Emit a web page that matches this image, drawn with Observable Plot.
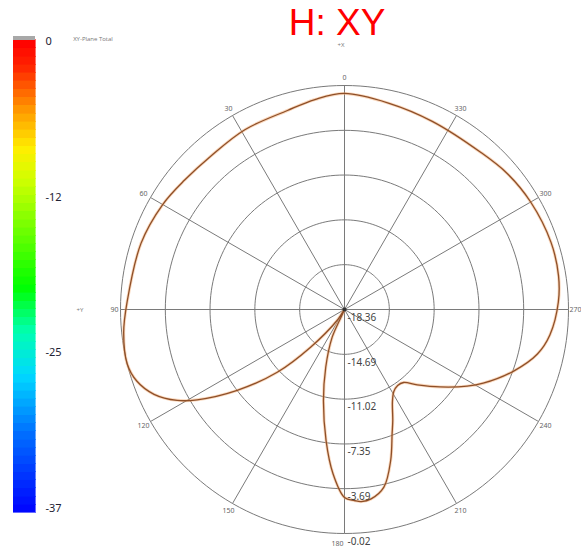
<!DOCTYPE html>
<html><head><meta charset="utf-8">
<script src="https://cdn.jsdelivr.net/npm/d3@7"></script>
<script src="https://cdn.jsdelivr.net/npm/@observablehq/plot@0.6"></script>
<style>
body{margin:0;background:#fff;}
#wrap{position:relative;width:581px;height:551px;overflow:hidden;font-family:"Open Sans","DejaVu Sans",sans-serif;}
#wrap > *{position:absolute;left:0;top:0;}
.lbl{font-size:6px;color:#777;white-space:nowrap;}
#title{font-family:"Liberation Sans",Arial,sans-serif;font-size:37px;color:#ff0000;line-height:1;}
</style></head><body><div id="wrap"></div>
<script>
// ---- data ----
const title = "H: XY";
const planeLabel = "XY-Plane Total";
const angles = [0, 8, 16, 29, 41, 51, 60, 72, 88, 96, 104, 109, 114, 118.5, 121.5, 127, 133, 138, 146, 151,
  156, 162, 167, 172, 176, 180, 183, 185, 188, 192.5, 197, 201, 203.5, 207.5, 211, 215, 219, 224, 231, 238,
  242, 250, 257, 263, 272, 279, 288, 300, 310, 319, 335, 348];
const gainDb = [-0.67, -1.00, -1.41, -1.53, -1.70, -1.52, -1.17, -0.84, -0.55, -0.18, -0.02, -0.37, -1.29, -2.77, -4.21, -7.36, -10.83, -14.21, -17.30, -18.36,
  -15.88, -13.39, -10.70, -7.52, -4.88, -2.97, -2.70, -2.57, -2.70, -3.46, -5.43, -7.48, -8.45, -9.86, -10.52, -10.77, -10.67, -9.79, -8.29, -6.52,
  -5.50, -3.62, -2.15, -1.41, -0.84, -0.62, -0.58, -0.76, -1.00, -1.33, -1.36, -1.08];
const ringDb = [-18.36, -14.69, -11.02, -7.35, -3.69, -0.02];
const spokeDeg = [0, 30, 60, 90, 120, 150, 180, 210, 240, 270, 300, 330];
const legendTicks = [0, -12.33, -24.67, -37];

// ---- layout ----
const W = 581, H = 551, cx = 344, cy = 309, R = 224;
const rMin = ringDb[0], rMax = ringDb[ringDb.length - 1];
const k = R / (rMax - rMin);
const U = rMax - rMin;
const rad = d => d * Math.PI / 180;
const ru = db => Math.max(0, db - rMin);
const px = (u, a) => -u * Math.sin(rad(a));
const py = (u, a) => u * Math.cos(rad(a));

const pattern = angles.map((a, i) => ({a, db: gainDb[i]}));
const ringPts = [];
ringDb.slice(1).forEach(db => { for (let a = 0; a <= 360; a += 2) ringPts.push({ring: db, a, u: ru(db)}); });

const sides = new Set([90, 180, 270]);
const wrap = document.getElementById("wrap");

const polar = Plot.plot({
  width: W, height: H, margin: 0,
  style: {background: "transparent", overflow: "visible"},
  x: {domain: [-cx / k, (W - cx) / k], range: [0, W], axis: null},
  y: {domain: [-(H - cy) / k, cy / k], range: [H, 0], axis: null},
  marks: [
    Plot.line(ringPts, {x: d => px(d.u, d.a), y: d => py(d.u, d.a), z: "ring", stroke: "#7a7a7a", strokeWidth: 1}),
    Plot.link(spokeDeg, {x1: () => 0, y1: () => 0, x2: d => px(U, d), y2: d => py(U, d), stroke: "#7a7a7a", strokeWidth: 1}),
    Plot.text(spokeDeg.filter(d => !sides.has(d)), {x: d => px(U + 8 / k, d), y: d => py(U + 8 / k, d), text: d => String(d),
      fontSize: 7, fill: "#666", textAnchor: "middle"}),
    Plot.text([90], {x: d => px(U + 2 / k, d), y: d => py(U, d), text: d => String(d),
      fontSize: 7, fill: "#666", textAnchor: "end"}),
    Plot.text([270], {x: d => px(U + 1 / k, d), y: d => py(U, d), text: d => String(d),
      fontSize: 7, fill: "#666", textAnchor: "start"}),
    Plot.text([180], {x: d => px(U + 10 / k, d), y: d => py(U + 10 / k, d), text: d => String(d),
      fontSize: 7, fill: "#666", textAnchor: "end", dx: -1}),
    Plot.line(pattern, {x: d => px(ru(d.db), d.a), y: d => py(ru(d.db), d.a), curve: "catmull-rom-closed",
      stroke: "#f2a66a", strokeWidth: 3, strokeOpacity: 0.45}),
    Plot.line(pattern, {x: d => px(ru(d.db), d.a), y: d => py(ru(d.db), d.a), curve: "catmull-rom-closed",
      stroke: "#8e4f28", strokeWidth: 1.3}),
    Plot.dot([0], {x: () => 0, y: () => 0, r: 2, fill: "#333", stroke: null}),
    Plot.text(ringDb, {x: () => 0, y: d => -ru(d), text: d => d.toFixed(2), textAnchor: "start", dx: 3, dy: 8,
      fontSize: 10, fill: "#444"})
  ]
});
wrap.appendChild(polar);

// colour bar
const nb = 58, lo = -37.35, hi = 0.1;
const bands = d3.range(nb).map(i => ({y1: lo + (hi - lo) * i / nb, y2: lo + (hi - lo) * (i + 1) / nb}));
const bar = Plot.plot({
  width: 80, height: H, margin: 0,
  style: {background: "transparent", overflow: "visible"},
  x: {domain: [0, 1], range: [13, 35], axis: null},
  y: {domain: [-37, 0], range: [508, 41], axis: null},
  color: {type: "linear", domain: [-37, -31, -26.5, -23, -19.5, -11, -8.5, -5.5, -2, 0],
    range: ["#0008ff", "#0070ff", "#00d8ff", "#00ffb0", "#00ff00", "#d0ff00", "#ffee00", "#ff9a00", "#ff2400", "#ff0000"]},
  marks: [
    Plot.rect(bands, {x1: () => 0, x2: () => 1, y1: "y1", y2: "y2", fill: d => (d.y1 + d.y2) / 2,
      stroke: d => (d.y1 + d.y2) / 2, strokeWidth: 0.6, shapeRendering: "crispEdges"}),
    Plot.rect([0], {x1: () => 0, x2: () => 1, y1: () => hi, y2: () => hi + 0.3, fill: "#a8a8a8", shapeRendering: "crispEdges"}),
    Plot.text(legendTicks, {x: () => 1, y: d => d, text: d => String(Math.round(d)), dx: 10, textAnchor: "start",
      fontSize: 11, fill: "#223"})
  ]
});
wrap.appendChild(bar);

function addLabel(text, x, y, cls) {
  const s = document.createElement("div");
  s.className = cls; s.textContent = text;
  s.style.left = x + "px"; s.style.top = y + "px";
  s.style.transform = "translate(-50%,-50%)";
  wrap.appendChild(s);
  return s;
}
addLabel(title, 337, 22, "").id = "title";
addLabel(planeLabel, 93, 39, "lbl");
addLabel("+X", 341, 45, "lbl");
addLabel("+Y", 80, 310, "lbl");
</script></body></html>
